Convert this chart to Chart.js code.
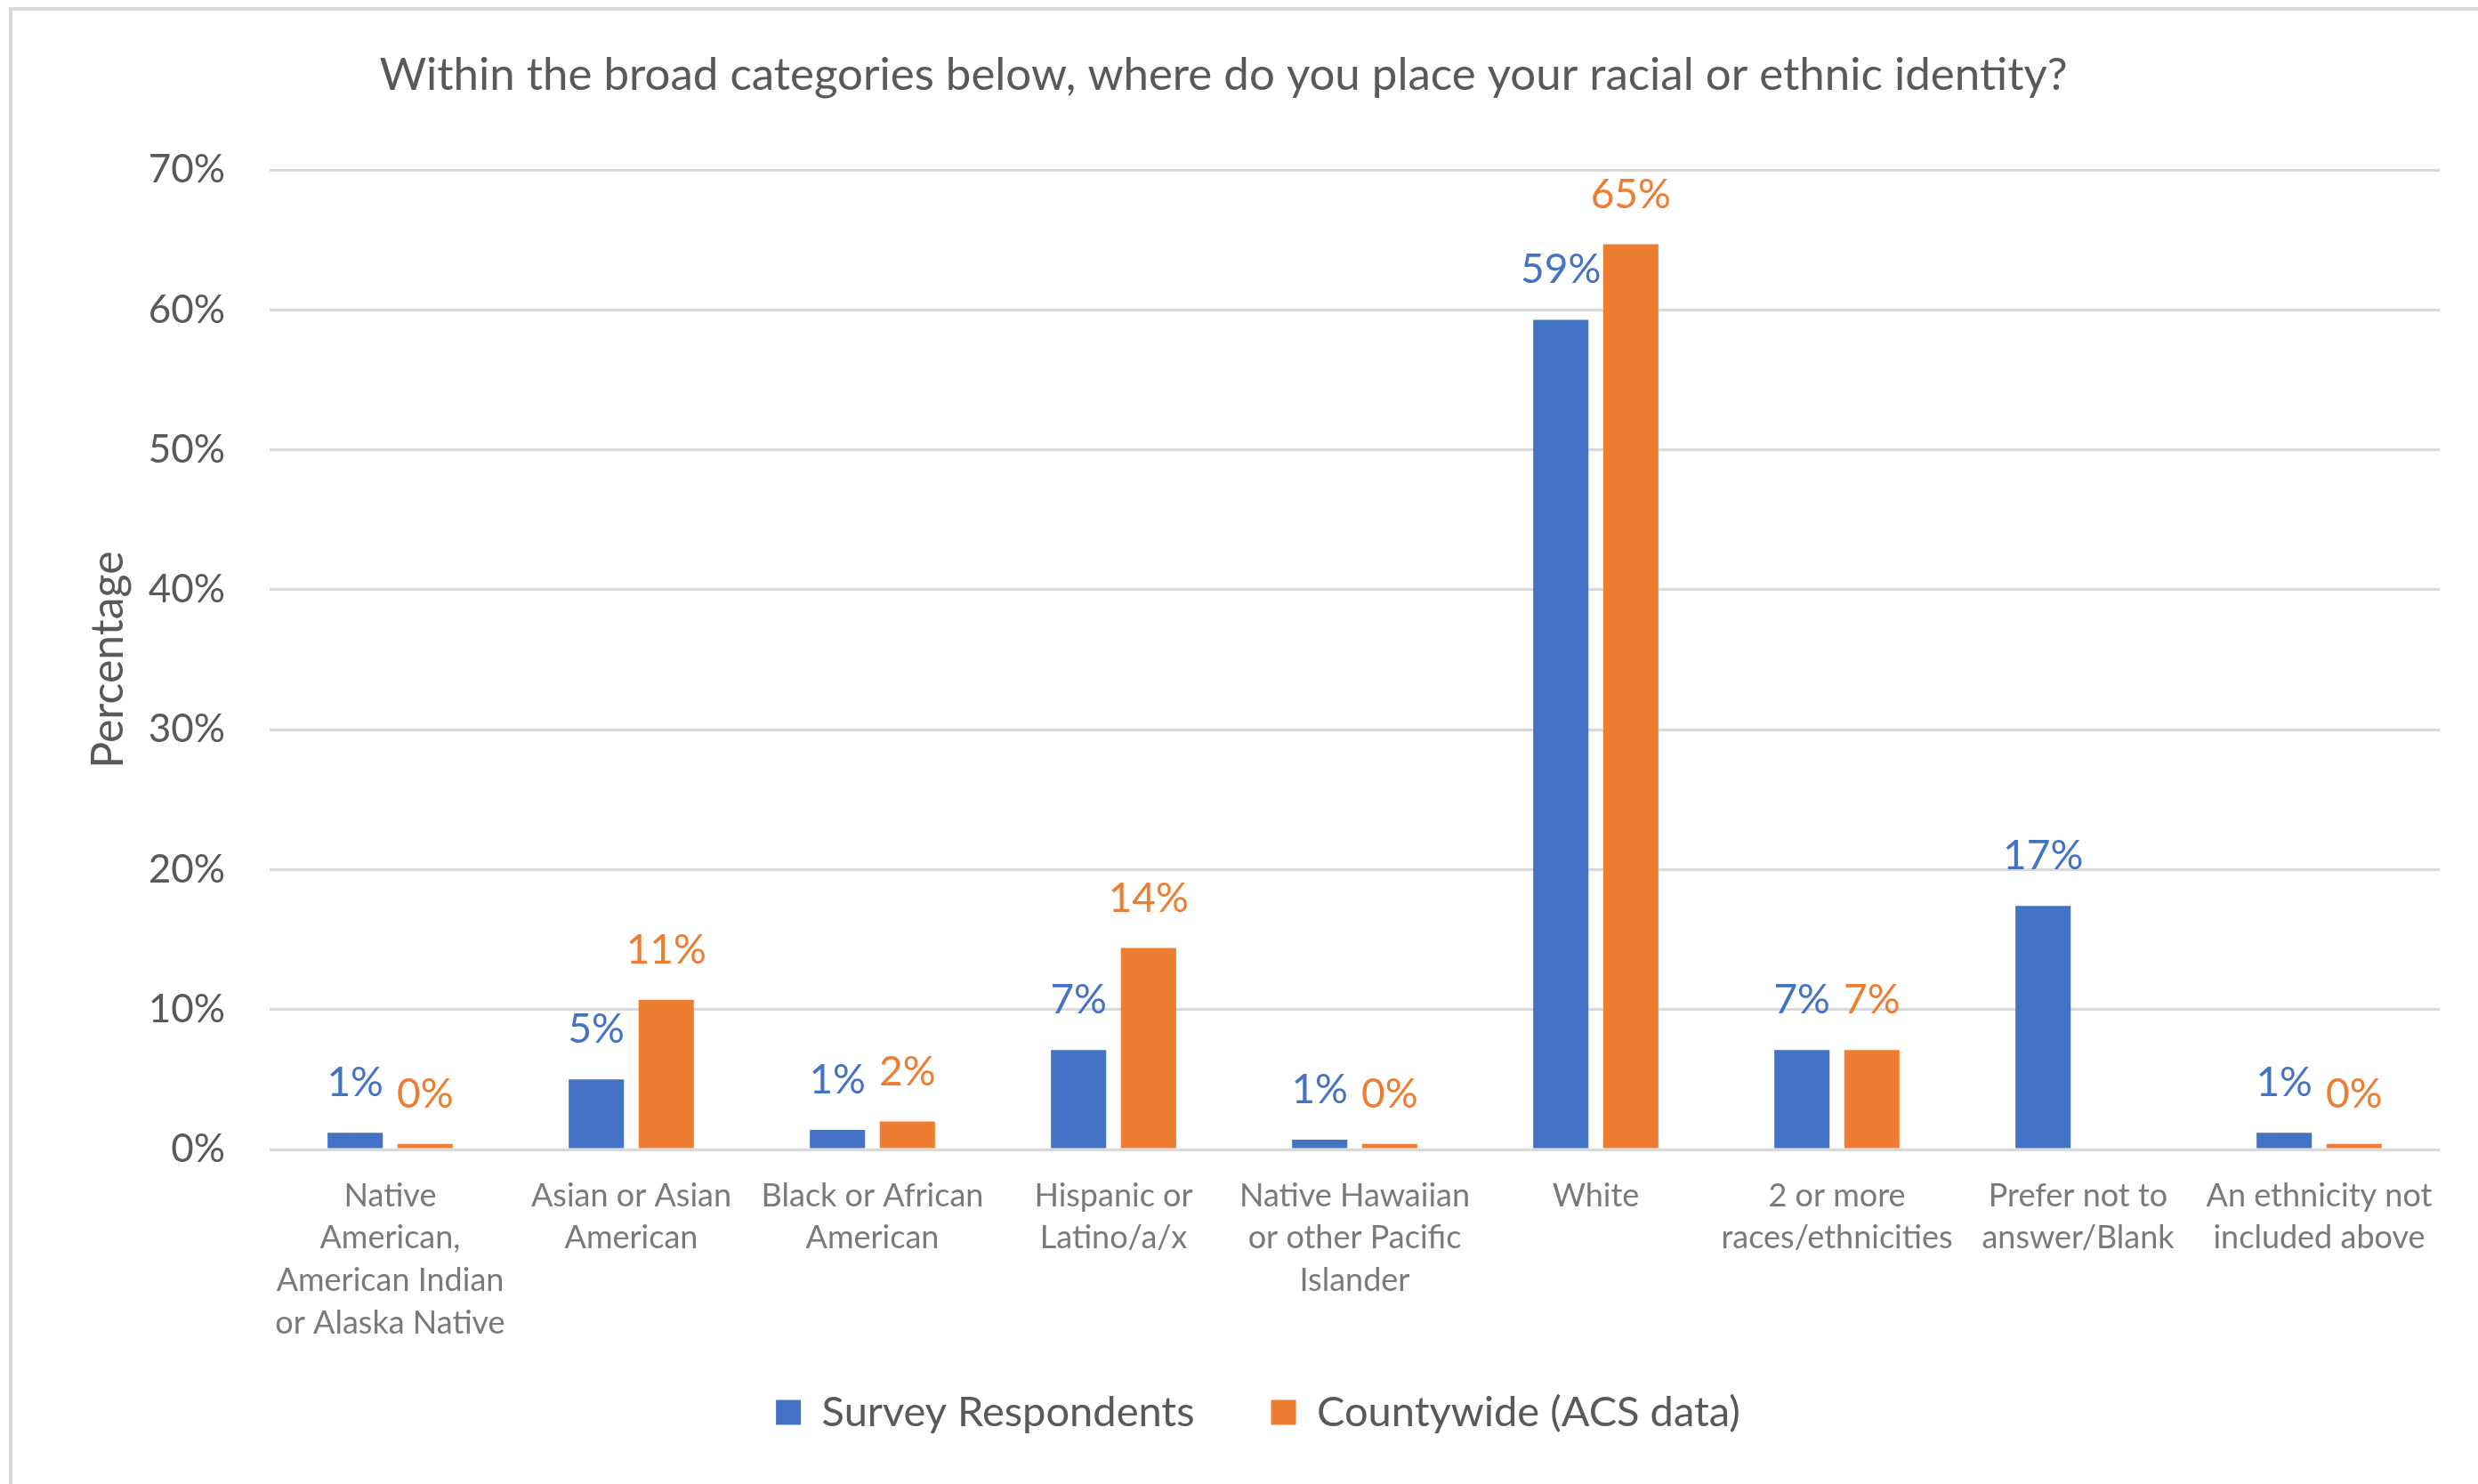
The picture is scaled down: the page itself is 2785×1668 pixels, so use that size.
<!DOCTYPE html>
<html>
<head>
<meta charset="utf-8">
<script src="https://cdn.jsdelivr.net/npm/chart.js@4/dist/chart.umd.min.js"></script>
<style>
  html, body { margin: 0; padding: 0; background: #fff; }
  #identityChart { display: block; }
</style>
</head>
<body>
<canvas id="identityChart" width="2785" height="1668"></canvas>
<script>
// categories (each entry is the wrapped label, one string per line)
const categories = [
    ['Native', 'American,', 'American Indian', 'or Alaska Native'],
    ['Asian or Asian', 'American'],
    ['Black or African', 'American'],
    ['Hispanic or', 'Latino/a/x'],
    ['Native Hawaiian', 'or other Pacific', 'Islander'],
    ['White'],
    ['2 or more', 'races/ethnicities'],
    ['Prefer not to', 'answer/Blank'],
    ['An ethnicity not', 'included above']
];

// percentages
const surveyRespondents = [1.2, 5.0, 1.4, 7.1, 0.7, 59.3, 7.1, 17.4, 1.2];
const countywideACS = [0.4, 10.7, 2.0, 14.4, 0.4, 64.7, 7.1, null, 0.4];

const yTicks = [0, 10, 20, 30, 40, 50, 60, 70];

const blue = '#4472C4';
const orange = '#ED7D31';
const gray = '#595959';

// white page plus the thin frame on the left and top
const framePlugin = {
    id: 'frame',
    beforeDraw(chart) {
        let ctx = chart.ctx;
        ctx.save();
        ctx.fillStyle = '#ffffff';
        ctx.fillRect(0, 0, chart.width, chart.height);
        ctx.fillStyle = '#d9d9d9';
        ctx.fillRect(10, 8, 4, chart.height - 8);
        ctx.fillRect(10, 8, chart.width - 10, 4);
        ctx.restore();
    }
};

// let the long x label run below its box, and nudge the legend right a bit
const layoutTweaks = {
    id: 'layoutTweaks',
    afterLayout(chart) {
        chart.scales.x.bottom += 60;
        chart.legend.left += 39;
        chart.legend.right += 39;
    }
};

// value labels above each bar
const valueLabels = {
    id: 'valueLabels',
    afterDatasetsDraw(chart) {
        let ctx = chart.ctx;
        ctx.save();
        ctx.font = '46px Lato';
        ctx.textAlign = 'center';
        ctx.textBaseline = 'alphabetic';
        chart.data.datasets.forEach((ds, i) => {
            let meta = chart.getDatasetMeta(i);
            meta.data.forEach((bar, j) => {
                let v = ds.data[j];
                if (v === null) return;
                ctx.fillStyle = ds.backgroundColor;
                ctx.fillText(Math.round(v) + '%', bar.x, bar.y - 41);
            });
        });
        ctx.restore();
    }
};

let ctx = document.getElementById('identityChart').getContext('2d');

let myBarChart = new Chart(ctx, {
    type: 'bar',
    data: {
        labels: categories,
        datasets: [{
            label: 'Survey Respondents',
            data: surveyRespondents,
            backgroundColor: blue
        }, {
            label: 'Countywide (ACS data)',
            data: countywideACS,
            backgroundColor: orange
        }]
    },
    options: {
        responsive: false,
        devicePixelRatio: 1,
        animation: false,
        categoryPercentage: 0.58,
        barPercentage: 0.79,
        layout: {
            padding: { left: 8, right: 43, top: 12, bottom: 47 }
        },
        plugins: {
            title: {
                display: true,
                text: 'Within the broad categories below, where do you place your racial or ethnic identity?',
                color: gray,
                font: { family: 'Lato', size: 51, weight: 'normal' },
                padding: { top: 42, bottom: 76 }
            },
            legend: {
                position: 'bottom',
                labels: {
                    color: gray,
                    font: { family: 'Lato', size: 47 },
                    boxWidth: 28,
                    boxHeight: 28,
                    padding: 86
                }
            },
            tooltip: { enabled: false }
        },
        scales: {
            x: {
                grid: { display: false },
                border: { display: false },
                ticks: {
                    color: '#7a7a7a',
                    font: { family: 'Lato', size: 36, lineHeight: 1.33 },
                    padding: 20,
                    maxRotation: 0,
                    autoSkip: false
                },
                afterFit(scale) {
                    scale.height = 186;
                }
            },
            y: {
                min: 0,
                max: 70,
                afterBuildTicks(scale) {
                    scale.ticks = yTicks.map(v => ({ value: v }));
                },
                grid: { color: '#d9d9d9', lineWidth: 3, drawTicks: false },
                border: { display: false },
                ticks: {
                    color: gray,
                    font: { family: 'Lato', size: 44 },
                    padding: 50,
                    callback: v => v + '%'
                },
                title: {
                    display: true,
                    text: 'Percentage',
                    color: gray,
                    font: { family: 'Lato', size: 50 },
                    padding: { top: 84, bottom: 0 }
                },
                afterFit(scale) {
                    scale.width = 295;
                }
            }
        }
    },
    plugins: [framePlugin, layoutTweaks, valueLabels]
});
</script>
</body>
</html>
